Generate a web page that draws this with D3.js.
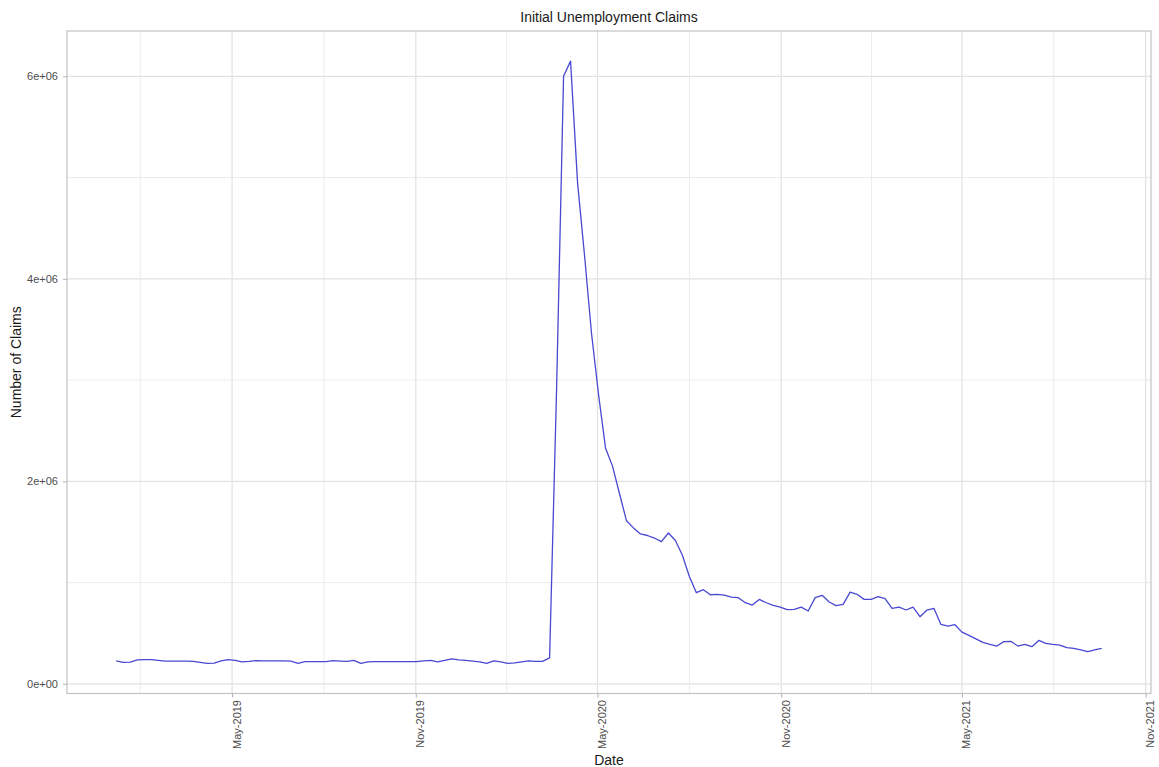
<!DOCTYPE html>
<html>
<head>
<meta charset="utf-8">
<script src="https://cdnjs.cloudflare.com/ajax/libs/d3/7.8.5/d3.min.js"></script>
<style>
  html, body { margin: 0; padding: 0; background: #ffffff; }
  svg { display: block; font-family: "Liberation Sans", Arial, sans-serif; }
</style>
</head>
<body>
<svg id="chart" width="1159" height="767"></svg>
<script>
// ---- data ----
const titleText = "Initial Unemployment Claims";
const xTitle = "Date";
const yTitle = "Number of Claims";

// weekly observations (week ending Saturday), first week and count
const firstWeek = "2019-01-05";

const claims = [
  227000, 212000, 215000, 237000, 239000, 239000, 232000, 225000, 225000, 225000,
  225000, 222000, 212000, 202000, 205000, 227000, 240000, 232000, 217000, 222000,
  229000, 227000, 227000, 227000, 227000, 225000, 202000, 219000, 219000, 219000,
  219000, 229000, 225000, 222000, 232000, 202000, 217000, 219000, 219000, 219000,
  219000, 219000, 219000, 219000, 227000, 232000, 217000, 232000, 247000, 237000,
  232000, 225000, 217000, 202000, 227000, 217000, 202000, 207000, 217000, 227000,
  222000, 222000, 256000, 2910000, 6000000, 6150000, 4950000, 4230000, 3460000, 2860000,
  2330000, 2150000, 1880000, 1610000, 1540000, 1480000, 1465000, 1440000, 1405000, 1490000,
  1415000, 1270000, 1060000, 900000, 930000, 880000, 884000, 877000, 857000, 851000,
  801000, 778000, 834000, 801000, 775000, 758000, 732000, 735000, 758000, 719000,
  851000, 874000, 808000, 772000, 785000, 906000, 884000, 834000, 834000, 861000,
  841000, 745000, 758000, 729000, 758000, 663000, 729000, 745000, 587000, 571000,
  584000, 511000, 479000, 444000, 410000, 390000, 373000, 417000, 420000, 373000,
  390000, 367000, 429000, 400000, 390000, 383000, 357000, 350000, 336000, 318000,
  336000, 350000
];

const xTickDates  = ["2019-05-01", "2019-11-01", "2020-05-01", "2020-11-01", "2021-05-01", "2021-11-01"];
const xTickLabels = ["May-2019", "Nov-2019", "May-2020", "Nov-2020", "May-2021", "Nov-2021"];
const yTickValues = [0, 2000000, 4000000, 6000000];
const yTickLabels = ["0e+00", "2e+06", "4e+06", "6e+06"];
const yMinorValues = [1000000, 3000000, 5000000];

// ---- layout ----
const svg = d3.select("#chart");
const W = 1159, H = 767;
const panel = { left: 67, right: 1151, top: 31, bottom: 693.5 };

const parse = d3.utcParse("%Y-%m-%d");
const start = parse(firstWeek);
const data = claims.map((v, i) => ({ date: d3.utcDay.offset(start, 7 * i), value: v }));

const xExt = d3.extent(data, d => d.date);
const span = xExt[1] - xExt[0];
const x = d3.scaleUtc()
  .domain([new Date(+xExt[0] - 0.05 * span), new Date(+xExt[1] + 0.05 * span)])
  .range([panel.left, panel.right]);

const yExt = d3.extent(data, d => d.value);
const yr = yExt[1] - yExt[0];
const y = d3.scaleLinear()
  .domain([yExt[0] - 0.05 * yr, yExt[1] + 0.05 * yr])
  .range([panel.bottom, panel.top]);

svg.append("rect").attr("width", W).attr("height", H).attr("fill", "#ffffff");

// minor x gridlines: midpoints between major breaks
const majorX = xTickDates.map(parse);
const stepMs = majorX[1] - majorX[0];
const minorX = [];
const allMajor = [new Date(+majorX[0] - stepMs)].concat(majorX).concat([new Date(+majorX[majorX.length - 1] + stepMs)]);
for (let i = 0; i < allMajor.length - 1; i++) {
  const m = new Date((+allMajor[i] + +allMajor[i + 1]) / 2);
  if (x(m) > panel.left && x(m) < panel.right) minorX.push(m);
}

const grid = svg.append("g");
grid.selectAll("line.ymin").data(yMinorValues).join("line")
  .attr("x1", panel.left).attr("x2", panel.right)
  .attr("y1", d => y(d)).attr("y2", d => y(d))
  .attr("stroke", "#ececec").attr("stroke-width", 1);
grid.selectAll("line.xmin").data(minorX).join("line")
  .attr("y1", panel.top).attr("y2", panel.bottom)
  .attr("x1", d => x(d)).attr("x2", d => x(d))
  .attr("stroke", "#ececec").attr("stroke-width", 1);
grid.selectAll("line.ymaj").data(yTickValues).join("line")
  .attr("x1", panel.left).attr("x2", panel.right)
  .attr("y1", d => y(d)).attr("y2", d => y(d))
  .attr("stroke", "#e2e2e2").attr("stroke-width", 1.2);
grid.selectAll("line.xmaj").data(majorX).join("line")
  .attr("y1", panel.top).attr("y2", panel.bottom)
  .attr("x1", d => x(d)).attr("x2", d => x(d))
  .attr("stroke", "#e2e2e2").attr("stroke-width", 1.2);

// data line
const line = d3.line().x(d => x(d.date)).y(d => y(d.value));
svg.append("path").datum(data)
  .attr("d", line)
  .attr("fill", "none")
  .attr("stroke", "#4848d2")
  .attr("stroke-width", 1.3)
  .attr("stroke-linejoin", "round");

// panel border
svg.append("rect")
  .attr("x", panel.left).attr("y", panel.top)
  .attr("width", panel.right - panel.left).attr("height", panel.bottom - panel.top)
  .attr("fill", "none").attr("stroke", "#c4c4c4").attr("stroke-width", 1.2);

// y axis
const yAxis = d3.axisLeft(y).tickValues(yTickValues)
  .tickFormat((d, i) => yTickLabels[i]).tickSize(4).tickPadding(5);
const gy = svg.append("g").attr("transform", `translate(${panel.left},0)`).call(yAxis);
gy.select(".domain").remove();
gy.selectAll(".tick line").attr("stroke", "#b8b8b8").attr("stroke-width", 1.1);
gy.selectAll(".tick text").attr("fill", "#4d4d4d").attr("font-size", 11)
  .attr("font-family", "'Liberation Sans', Arial, sans-serif");

// x axis
const xAxis = d3.axisBottom(x).tickValues(majorX)
  .tickFormat((d, i) => xTickLabels[i]).tickSize(4);
const gx = svg.append("g").attr("transform", `translate(0,${panel.bottom})`).call(xAxis);
gx.select(".domain").remove();
gx.selectAll(".tick line").attr("stroke", "#b8b8b8").attr("stroke-width", 1.1);
gx.selectAll(".tick text")
  .attr("fill", "#4d4d4d").attr("font-size", 11)
  .attr("font-family", "'Liberation Sans', Arial, sans-serif")
  .attr("text-anchor", "end")
  .attr("dy", null)
  .attr("y", null)
  .attr("transform", "translate(8,6.5) rotate(-90)");

// titles
svg.append("text").attr("x", (panel.left + panel.right) / 2).attr("y", 22)
  .attr("text-anchor", "middle").attr("font-size", 14).attr("fill", "#1a1a1a")
  .text(titleText);
svg.append("text").attr("x", (panel.left + panel.right) / 2).attr("y", 765)
  .attr("text-anchor", "middle").attr("font-size", 14).attr("fill", "#1a1a1a")
  .text(xTitle);
svg.append("text")
  .attr("transform", `translate(21,${(panel.top + panel.bottom) / 2}) rotate(-90)`)
  .attr("text-anchor", "middle").attr("font-size", 14).attr("fill", "#1a1a1a")
  .text(yTitle);
</script>
</body>
</html>
